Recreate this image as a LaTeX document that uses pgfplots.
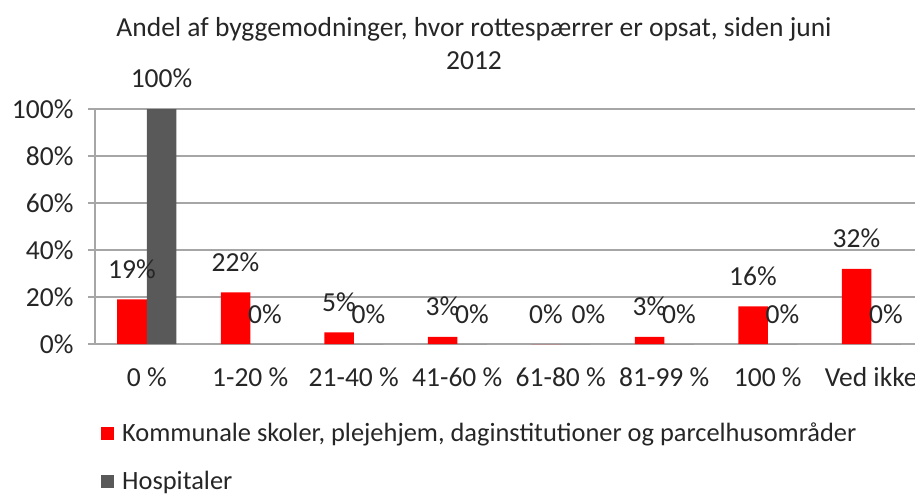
\documentclass[border=0pt]{standalone}
\usepackage{fontspec}
\setmainfont{Carlito}
\usepackage{pgfplots}
\pgfplotsset{compat=1.18}
\definecolor{redbar}{HTML}{FF0000}
\definecolor{graybar}{HTML}{595959}
\definecolor{gridc}{HTML}{A6A6A6}
\definecolor{txt}{HTML}{262626}
\begin{document}
\begin{tikzpicture}[font=\fontsize{27.5}{33}\selectfont]
\begin{axis}[
  at={(95pt,149pt)}, anchor=south west,
  scale only axis, width=828pt, height=235pt,
  xmin=-0.5, xmax=7.5, ymin=0, ymax=100,
  ybar=0pt, bar width=29.5pt,
  clip=false,
  axis lines*=left,
  axis line style={draw=gridc, line width=1.2pt, -},
  xtick={0,...,7},
  xticklabels={0 \%, 1-20 \%, 21-40 \%, 41-60 \%, 61-80 \%, 81-99 \%, 100 \%, Ved ikke},
  x tick style={draw=none},
  extra x ticks={-0.5,0.5,...,7.5},
  extra x tick labels={},
  extra x tick style={major tick length=8pt, tick align=outside, tick style={draw=gridc, line width=1.2pt}},
  ytick={0,20,...,100},
  yticklabel={\pgfmathprintnumber{\tick}\%},
  y tick style={draw=gridc, line width=1.2pt},
  major tick length=7pt, tick align=outside,
  ymajorgrids, grid style={draw=gridc, line width=1.2pt},
  tick label style={text=txt},
  /pgf/number format/assume math mode=true,
  xticklabel style={yshift=-13pt},
  yticklabel style={xshift=-11pt},
  visualization depends on={\thisrow{dx}\as\dx},
  nodes near coords={\pgfmathprintnumber{\pgfplotspointmeta}\%},
  every node near coord/.append style={anchor=base, yshift=21pt, xshift=\dx pt, inner sep=0pt, text=txt},
  legend style={at={(0,0)}, anchor=north west, xshift=3pt, yshift=-75pt, draw=none, fill=none, legend cell align=left, row sep=24pt, text=txt,
    font=\fontsize{26.4}{31}\selectfont,
    /tikz/every odd column/.append style={column sep=6pt}},
  legend image code/.code={\fill[#1] (0pt,-6.5pt) rectangle (13pt,6.5pt);},
]
\addplot[fill=redbar, draw=none] table {
x y dx
0 19 0
1 22 0
2 5 0
3 3 0
4 0 0
5 3 0
6 16 0
7 32 0
};
\addplot[fill=graybar, draw=none] table {
x y dx
0 100 0
1 0 0
2 0 0
3 0 0
4 0 13
5 0 0
6 0 0
7 0 0
};
\legend{{Kommunale skoler, plejehjem, daginstitutioner og parcelhusområder}, {Hospitaler}}
\end{axis}
\node[align=center, text=txt] at (474pt,449pt) {Andel af byggemodninger, hvor rottespærrer er opsat, siden juni\\2012};
\pgfresetboundingbox
\path[use as bounding box] (0pt,0pt) rectangle (915pt,493pt);
\end{tikzpicture}
\end{document}
